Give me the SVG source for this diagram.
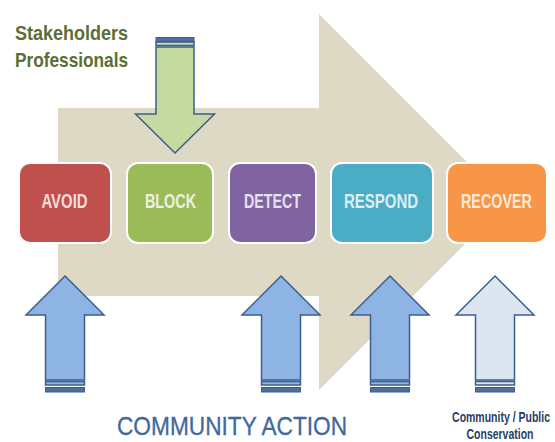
<svg xmlns="http://www.w3.org/2000/svg" width="555" height="442" viewBox="0 0 555 442">
<style>
.box{stroke:#ffffff;stroke-width:2}
.bt{font-family:"Liberation Sans",Arial,sans-serif;font-weight:bold;font-size:20px;text-anchor:middle}
.up{fill:#8eb4e3;stroke:#3b5d8f;stroke-width:1.5;stroke-linejoin:miter}
.upl{fill:#dce6f2;stroke:#3b5d8f;stroke-width:1.5}
.dk{fill:#4f6f9f;stroke:#3b5d8f;stroke-width:1}
.gr{fill:#c6d9a0;stroke:#3b5d8f;stroke-width:1.5}
</style>
<rect width="555" height="442" fill="#ffffff"/>
<g id="bigArrow">
<path d="M58,108 L319,108 L319,14 L507,202 L319,390 L319,296 L58,296 Z" fill="#ddd9c4"/>
</g>
<g id="connectors">
<g id="downArrow">
<path class="gr" d="M156,47 L194,47 L194,114 L214.5,114 L175,153 L135.5,114 L156,114 Z"/>
<rect class="gr" x="156" y="42" width="38" height="3.5"/>
<rect class="dk" x="156" y="37.5" width="38" height="4"/>
</g>
<g id="upArrow1">
<path class="up" d="M65,276 L104,315 L84.5,315 L84.5,380 L45.5,380 L45.5,315 L26,315 Z"/>
<rect class="up" x="45.5" y="381.5" width="39" height="3.5"/>
<rect class="dk" x="45.5" y="387.5" width="39" height="4.5"/>
</g>
<g id="upArrow2">
<path class="up" d="M281,276 L320,315 L300.5,315 L300.5,380 L261.5,380 L261.5,315 L242,315 Z"/>
<rect class="up" x="261.5" y="381.5" width="39" height="3.5"/>
<rect class="dk" x="261.5" y="387.5" width="39" height="4.5"/>
</g>
<g id="upArrow3">
<path class="up" d="M390,276 L429,315 L409.5,315 L409.5,380 L370.5,380 L370.5,315 L351,315 Z"/>
<rect class="up" x="370.5" y="381.5" width="39" height="3.5"/>
<rect class="dk" x="370.5" y="387.5" width="39" height="4.5"/>
</g>
<g id="upArrow4">
<path class="upl" d="M495,276 L534,315 L514.5,315 L514.5,380 L475.5,380 L475.5,315 L456,315 Z"/>
<rect class="upl" x="475.5" y="381.5" width="39" height="3.5"/>
<rect class="dk" x="475.5" y="387.5" width="39" height="4.5"/>
</g>
</g>
<g id="avoid">
<rect class="box" x="19" y="163" width="92" height="80" rx="11" fill="#c0504d"/>
<text class="bt" transform="translate(64.5,208) scale(0.72,1)" fill="#f2dcdb" textLength="64" lengthAdjust="spacingAndGlyphs">AVOID</text>
</g>
<g id="block">
<rect class="box" x="127" y="163" width="86" height="80" rx="11" fill="#9bbb59"/>
<text class="bt" transform="translate(170.5,208) scale(0.72,1)" fill="#ebf1de" textLength="71" lengthAdjust="spacingAndGlyphs">BLOCK</text>
</g>
<g id="detect">
<rect class="box" x="229" y="163" width="87" height="80" rx="11" fill="#8064a2"/>
<text class="bt" transform="translate(272.5,208) scale(0.72,1)" fill="#e5e0ec" textLength="79" lengthAdjust="spacingAndGlyphs">DETECT</text>
</g>
<g id="respond">
<rect class="box" x="331" y="163" width="102" height="80" rx="11" fill="#4bacc6"/>
<text class="bt" transform="translate(381,208) scale(0.72,1)" fill="#dbeef3" textLength="103" lengthAdjust="spacingAndGlyphs">RESPOND</text>
</g>
<g id="recover">
<rect class="box" x="447" y="163" width="100" height="80" rx="11" fill="#f79646"/>
<text class="bt" transform="translate(496.5,208) scale(0.72,1)" fill="#fde9d9" textLength="98.6" lengthAdjust="spacingAndGlyphs">RECOVER</text>
</g>
<g id="stakeholders" font-family="'Liberation Sans',Arial,sans-serif" font-weight="bold" font-size="20" fill="#5a6e35">
<text transform="translate(15,40) scale(0.72,1)" textLength="157" lengthAdjust="spacingAndGlyphs">Stakeholders</text>
<text transform="translate(15,67) scale(0.72,1)" textLength="157" lengthAdjust="spacingAndGlyphs">Professionals</text>
</g>
<g id="communityAction">
<text transform="translate(117,435) scale(0.9,1)" font-family="'Liberation Sans',Arial,sans-serif" font-size="25" fill="#3f69a0" stroke="#3f69a0" stroke-width="0.3" textLength="255.6" lengthAdjust="spacingAndGlyphs">COMMUNITY ACTION</text>
</g>
<g id="communityPublic" font-family="'Liberation Sans',Arial,sans-serif" font-weight="bold" font-size="15" fill="#283f5f" text-anchor="middle">
<text transform="translate(501,422) scale(0.72,1)" textLength="136" lengthAdjust="spacingAndGlyphs">Community / Public</text>
<text transform="translate(500,439) scale(0.72,1)" textLength="93" lengthAdjust="spacingAndGlyphs">Conservation</text>
</g>
</svg>
